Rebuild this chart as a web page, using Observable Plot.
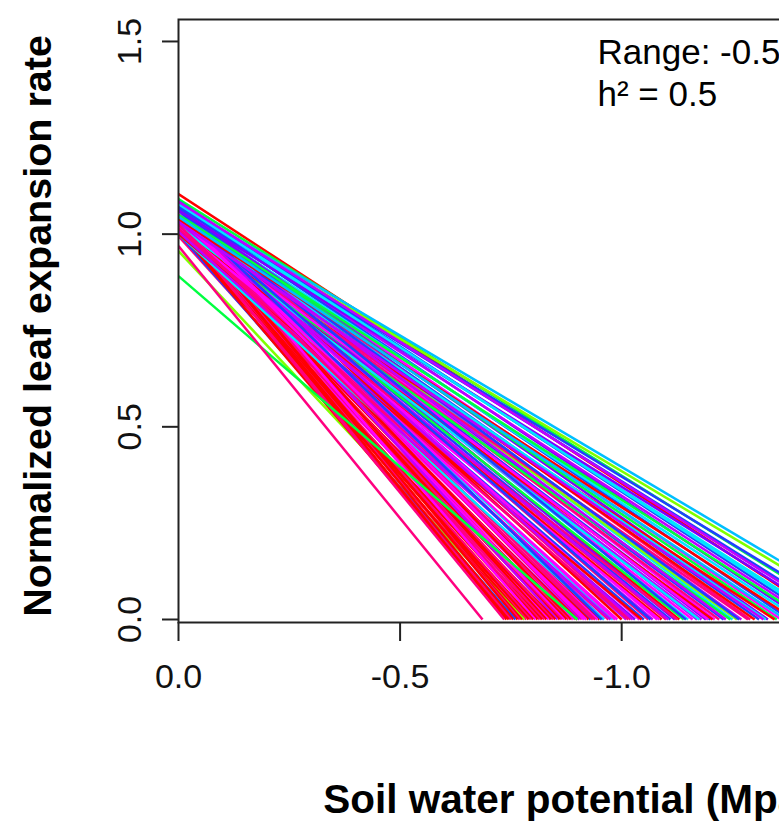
<!DOCTYPE html>
<html>
<head>
<meta charset="utf-8">
<script src="https://cdn.jsdelivr.net/npm/d3@7"></script>
<script src="https://cdn.jsdelivr.net/npm/@observablehq/plot@0.6"></script>
<style>
  html, body { margin: 0; padding: 0; background: #fff; overflow: hidden; width: 779px; height: 830px; }
  #chart { width: 1000px; }
</style>
</head>
<body>
<div id="chart"></div>
<script>
// Simulated genotypes: each line runs from its rate at 0 MPa (intercept)
// down to the soil water potential at which expansion stops (crossing).
const intercepts = [
  1.104, 1.091, 1.085, 1.080, 1.078, 1.072, 1.076, 1.070, 1.068, 1.074,
  1.064, 1.060, 1.066, 1.058, 1.062, 1.055, 1.052, 1.057, 1.050, 1.048,
  1.060, 1.045, 1.054, 1.042, 1.050, 1.040, 1.047, 1.038, 1.044, 1.036,
  1.058, 1.034, 1.046, 1.030, 1.052, 1.040, 1.028, 1.063, 1.035, 1.044,
  1.026, 1.050, 1.032, 1.060, 1.024, 1.041, 1.030, 1.055, 1.020, 1.036,
  1.048, 1.015, 1.040, 1.028, 1.058, 1.010, 1.034, 1.046, 1.022, 1.064,
  1.005, 1.038, 1.052, 1.018, 1.030, 1.070, 1.000, 1.044, 1.026, 1.012,
  1.058, 1.036, 0.998, 1.048, 1.020, 1.066, 1.008, 1.040, 1.028, 0.995,
  1.054, 0.956, 1.016, 1.034, 1.062, 1.002, 1.046, 1.024, 1.010, 1.050,
  1.030, 0.891, 0.969, 1.000, 1.012, 1.042, 1.026, 1.064, 1.018, 1.056,
  1.008, 1.038, 1.022, 1.070, 1.004, 1.032, 1.016, 1.060, 1.000, 1.052,
  1.014, 1.042, 1.006, 1.068, 1.024, 1.054, 1.038, 1.050, 1.062, 1.070,
  1.045, 1.032, 1.078, 1.084
];
const crossings = [
  -1.47, -1.52, -1.44, -1.41, -1.58, -1.56, -1.50, -1.46, -1.43, -1.38,
  -1.36, -1.40, -1.33, -1.31, -1.29, -1.35, -1.27, -1.25, -1.23, -1.30,
  -1.21, -1.26, -1.19, -1.22, -1.17, -1.20, -1.15, -1.16, -1.13, -1.18,
  -1.12, -1.10, -1.11, -1.14, -1.08, -1.07, -1.09, -1.06, -1.05, -1.04,
  -1.03, -1.02, -1.01, -1.00, -0.99, -0.98, -0.97, -0.96, -0.95, -0.945,
  -0.94, -0.93, -0.925, -0.92, -0.91, -0.905, -0.90, -0.895, -0.89, -0.885,
  -0.88, -0.875, -0.87, -0.865, -0.86, -0.855, -0.85, -0.845, -0.84, -0.835,
  -0.83, -0.825, -0.82, -0.815, -0.81, -0.805, -0.80, -0.795, -0.79, -0.785,
  -0.78, -0.78, -0.775, -0.77, -0.765, -0.76, -0.755, -0.75, -0.745, -0.74,
  -0.735, -0.90, -0.686, -0.96, -1.345, -1.325, -1.285, -1.265, -1.245, -1.235,
  -1.205, -1.195, -1.175, -1.145, -1.125, -1.105, -1.085, -1.065, -1.045, -1.025,
  -1.015, -0.985, -0.975, -0.955, -0.935, -0.915, -1.39, -1.42, -1.48, -1.53,
  -1.37, -1.32, -1.45, -1.49
];
const colourKeys = [
  "R", "G", "B", "U", "S", "Y", "B", "C", "V", "B",
  "M", "C", "U", "B", "P", "G", "V", "C", "B", "R",
  "M", "Y", "U", "P", "V", "B", "C", "M", "R", "V",
  "U", "P", "B", "G", "M", "V", "R", "P", "B", "M",
  "U", "P", "V", "R", "M", "C", "P", "V", "R", "M",
  "P", "B", "R", "M", "P", "V", "R", "P", "M", "R",
  "P", "R", "M", "P", "R", "V", "R", "P", "R", "M",
  "R", "P", "R", "P", "R", "M", "R", "P", "R", "P",
  "R", "Y", "R", "P", "R", "B", "R", "P", "R", "R",
  "P", "G", "P", "C", "R", "C", "P", "B", "G", "V",
  "R", "M", "C", "B", "P", "V", "M", "B", "R", "V",
  "P", "M", "V", "B", "P", "M", "R", "G", "U", "B",
  "S", "V", "C", "V"
];
const palette = {
  R: "#ff0000", P: "#ff0080", M: "#ff00ff", V: "#c000ff", U: "#8000ff",
  B: "#2040ff", S: "#00bfff", C: "#00e5ff", G: "#00ff40", Y: "#80ff00"
};

const startPotential = 0;
const xTicks = [0, -0.5, -1.0, -1.5];
const yTicks = [0, 0.5, 1.0, 1.5];
const xLabel = "Soil water potential (Mpa)";
const yLabel = "Normalized leaf expansion rate";
const noteLines = ["Range: -0.5 to -1.5", "h\u00b2 = 0.5"];

const rows = intercepts.map((v, i) => ({
  x1: startPotential, y1: v,
  x2: crossings[i], y2: 0,
  colour: palette[colourKeys[i]]
}));

const fmt = d => d.toFixed(1);
const ink = "#222";

const chart = Plot.plot({
  width: 1000,
  height: 830,
  marginLeft: 178,
  marginRight: 42,
  marginTop: 19,
  marginBottom: 208,
  style: { fontFamily: "'Liberation Sans', Arial, sans-serif", background: "#fff", color: ink },
  x: { domain: [0, -1.76], axis: null },
  y: { domain: [-0.0078, 1.557], axis: null },
  color: { type: "identity" },
  marks: [
    Plot.link(rows, { x1: "x1", y1: "y1", x2: "x2", y2: "y2", stroke: "colour", strokeWidth: 2.5, clip: true }),
    Plot.frame({ stroke: ink, strokeWidth: 2 }),
    Plot.axisX({ ticks: xTicks, tickSize: 19, tickFormat: () => "", color: ink, strokeWidth: 2, label: null }),
    Plot.axisY({ ticks: yTicks, tickSize: 16, tickFormat: () => "", color: ink, strokeWidth: 2, label: null }),
    Plot.text(xTicks, { x: d => d, frameAnchor: "bottom", dy: 65, text: fmt, fontSize: 34, lineAnchor: "bottom", textAnchor: "middle", fill: "#111" }),
    Plot.text(yTicks, { y: d => d, frameAnchor: "left", dx: -38, rotate: -90, text: fmt, fontSize: 34, lineAnchor: "bottom", textAnchor: "middle", fill: "#111" }),
    Plot.text([xLabel], { frameAnchor: "bottom", dx: 0, dy: 190, text: d => d, fontSize: 40.5, fontWeight: "bold", lineAnchor: "bottom", textAnchor: "middle", fill: "#000" }),
    Plot.text([yLabel], { frameAnchor: "left", dx: -128, dy: 5, rotate: -90, text: d => d, fontSize: 39.5, fontWeight: "bold", lineAnchor: "bottom", textAnchor: "middle", fill: "#000" }),
    Plot.text([noteLines.join("\n")], { frameAnchor: "top-left", dx: 419, dy: 15, text: d => d, fontSize: 35, lineHeight: 1.2, lineAnchor: "top", textAnchor: "start", fill: "#000" })
  ]
});

document.getElementById("chart").appendChild(chart);
</script>
</body>
</html>
